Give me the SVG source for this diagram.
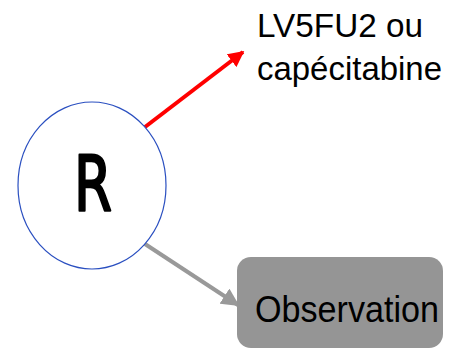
<svg xmlns="http://www.w3.org/2000/svg" width="450" height="350" viewBox="0 0 450 350">
  <style>
    .lbl { font-family: "Liberation Sans", "DejaVu Sans", sans-serif; fill: #000; }
    .big { font-family: "DejaVu Sans", "Liberation Sans", sans-serif; fill: #000; stroke: #000; stroke-width: 2.5; stroke-linejoin: round; }
  </style>
  <defs>
    <marker id="headRed" viewBox="0 0 10 10" refX="9" refY="5" markerWidth="4" markerHeight="4" orient="auto" markerUnits="strokeWidth">
      <path d="M0,0 L10,5 L0,10 z" fill="#ff0000"/>
    </marker>
    <marker id="headGray" viewBox="0 0 10 10" refX="9" refY="5" markerWidth="4.5" markerHeight="4.5" orient="auto" markerUnits="strokeWidth">
      <path d="M0,0 L10,5 L0,10 z" fill="#999999"/>
    </marker>
  </defs>
  <rect width="450" height="350" fill="#ffffff"/>

  <g id="connectors">
    <line x1="145" y1="127" x2="243" y2="52" stroke="#ff0000" stroke-width="4" marker-end="url(#headRed)"/>
    <line x1="145" y1="244" x2="238" y2="305" stroke="#999999" stroke-width="4" marker-end="url(#headGray)"/>
  </g>

  <g id="node-r">
    <ellipse cx="92" cy="185.5" rx="74" ry="83.5" fill="#ffffff" stroke="#2a4fc0" stroke-width="1.2"/>
    <text class="big" x="74" y="211" font-size="76" textLength="38" lengthAdjust="spacingAndGlyphs">R</text>
  </g>

  <g id="node-treatment">
    <text class="lbl" x="257" y="37" font-size="33" textLength="166" lengthAdjust="spacingAndGlyphs">LV5FU2 ou</text>
    <text class="lbl" x="257" y="80" font-size="33" textLength="185" lengthAdjust="spacingAndGlyphs">capécitabine</text>
  </g>

  <g id="node-observation">
    <rect x="237" y="257" width="206" height="91" rx="14" ry="14" fill="#959595"/>
    <text class="lbl" x="255" y="322" font-size="36" textLength="184" lengthAdjust="spacingAndGlyphs">Observation</text>
  </g>
</svg>
